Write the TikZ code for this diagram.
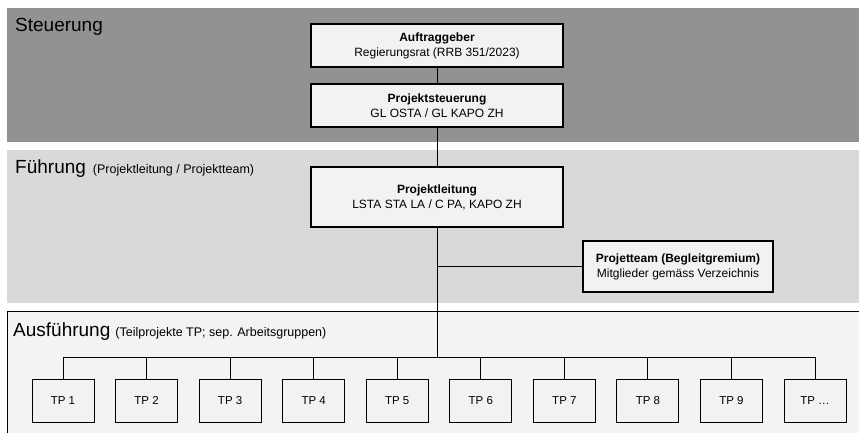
\documentclass[tikz,border=0pt]{standalone}
\usepackage{fontspec}
\setmainfont{Liberation Sans}
\definecolor{steuergrau}{RGB}{146,146,146}
\definecolor{fuehrgrau}{RGB}{217,217,217}
\definecolor{ausfgrau}{RGB}{243,243,243}
\definecolor{boxgrau}{RGB}{242,242,242}
\begin{document}
\begin{tikzpicture}[x=1pt,y=-1pt,
  box/.style={draw=black,line width=1.1pt,fill=boxgrau,minimum width=252pt,minimum height=43pt,align=center,inner sep=0pt,font=\fontsize{12}{15}\selectfont},
  tpbox/.style={draw=black,line width=1pt,fill=boxgrau,minimum width=62pt,minimum height=43pt,inner sep=0pt,font=\fontsize{11.5}{14}\selectfont},
  titel/.style={anchor=base west,inner sep=0pt,font=\fontsize{19}{22}\selectfont},
  linie/.style={line width=0.9pt}]
\clip (0,0) rectangle (859,433);
% Ebenen
\fill[steuergrau] (7,8) rectangle (870,142);
\fill[fuehrgrau] (7,150) rectangle (870,303);
\filldraw[fill=ausfgrau,draw=black,line width=0.8pt] (7,311) rectangle (870,445);
\node[titel] (steuerung) at (15,32) {Steuerung};
\node[titel] (fuehrung) at (15,173) {Führung\hspace{7pt}{\fontsize{12.5}{15}\selectfont(Projektleitung / Projektteam)}};
\node[titel] (ausfuehrung) at (13,336) {Ausführung\hspace{5pt}{\fontsize{12.5}{15}\selectfont(Teilprojekte TP; sep. Arbeitsgruppen)}};
% Organe
\node[box] (auftrag) at (437,45.5) {\textbf{Auftraggeber}\\Regierungsrat (RRB 351/2023)};
\node[box] (psteuer) at (437,105.5) {\textbf{Projektsteuerung}\\GL OSTA / GL KAPO ZH};
\node[box,minimum height=60pt] (pleitung) at (437,197) {\textbf{Projektleitung}\\LSTA STA LA / C PA, KAPO ZH};
\node[box,minimum width=190pt,minimum height=51pt] (pteam) at (678,266.5) {\textbf{Projetteam (Begleitgremium)}\\Mitglieder gemäss Verzeichnis};
\coordinate (bus) at (437,357);
% Teilprojekte
\foreach \i in {1,...,9}
  \node[tpbox] (tp\i) at ({63+83.56*(\i-1)},400.5) {TP \i};
\node[tpbox] (tp10) at (815,400.5) {TP …};
% Linien
\draw[linie] (auftrag) -- (psteuer);
\draw[linie] (psteuer) -- (pleitung);
\draw[linie] (pleitung) -- (bus);
\draw[linie] (pteam) -- (pteam -| bus);
\draw[linie] (tp1.north |- bus) -- (tp10.north |- bus);
\foreach \i in {1,...,10}
  \draw[linie] (tp\i) -- (tp\i |- bus);
\end{tikzpicture}
\end{document}
